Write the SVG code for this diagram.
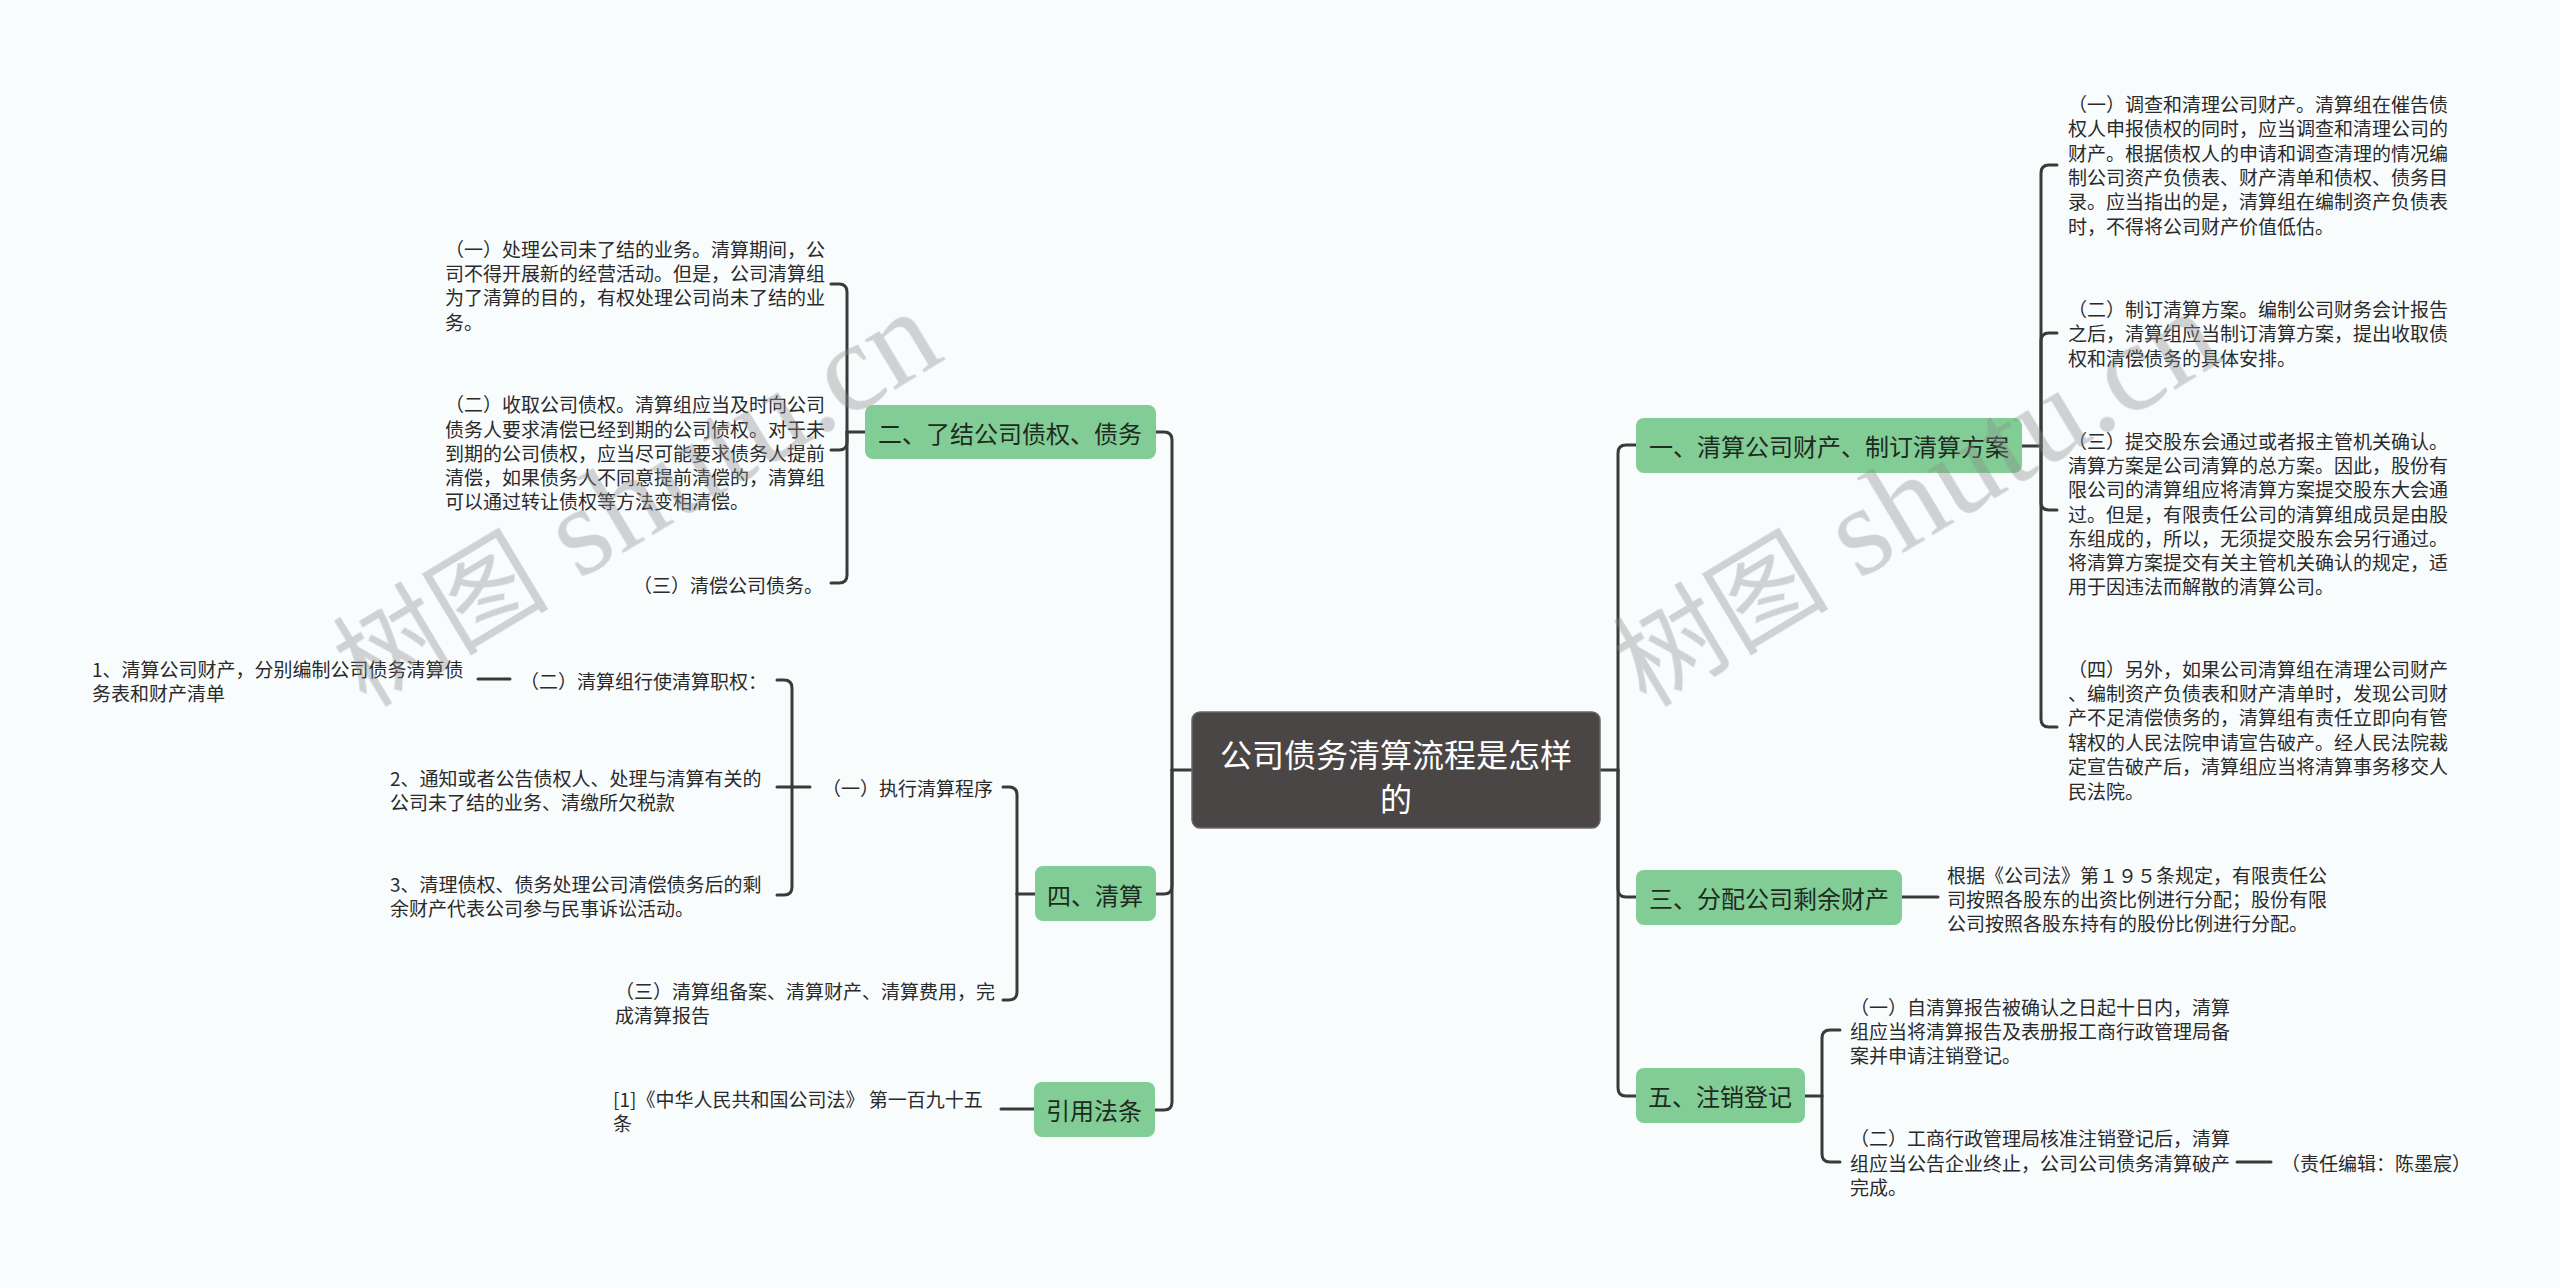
<svg xmlns="http://www.w3.org/2000/svg" width="2560" height="1288" viewBox="0 0 2560 1288">
<style>
.bg{fill:#f9fcfd}
.ln{fill:none;stroke:#3a3a3a;stroke-width:3;stroke-linecap:round;stroke-linejoin:round}
.box{fill:#82cd95}
.root{fill:#4b4646;stroke:#6d6868;stroke-width:1.5}
.t{font-family:"Noto Sans CJK SC","Noto Sans",sans-serif;font-size:19px;fill:#2a2a2a;dominant-baseline:central}
.bt{font-family:"Noto Sans CJK SC","Noto Sans",sans-serif;font-size:24px;fill:#1e2a22;dominant-baseline:central;text-anchor:middle}
.rt{font-family:"Noto Sans CJK SC","Noto Sans",sans-serif;font-size:32px;fill:#ffffff;dominant-baseline:central;text-anchor:middle}
.wm{fill:#8a8a8a;opacity:0.38}
.wc{font-family:"Noto Sans CJK SC",sans-serif;font-size:108px}
.wl{font-family:"Liberation Serif",serif;font-size:128px}
</style>
<rect class="bg" x="0" y="0" width="2560" height="1288"/>

<g id="connectors">
  <path class="ln" d="M1600 770 H1618"/>
  <path class="ln" d="M1618 770 V453 Q1618 445 1626 445 H1636"/>
  <path class="ln" d="M1618 770 V889 Q1618 897 1626 897 H1636"/>
  <path class="ln" d="M1618 770 V1088 Q1618 1096 1626 1096 H1636"/>
  <path class="ln" d="M1192 770 H1172"/>
  <path class="ln" d="M1172 770 V440 Q1172 432 1164 432 H1156"/>
  <path class="ln" d="M1172 770 V886 Q1172 894 1164 894 H1156"/>
  <path class="ln" d="M1172 770 V1102 Q1172 1110 1164 1110 H1155"/>
  <path class="ln" d="M2022 446 H2041"/>
  <path class="ln" d="M2041 446 V173 Q2041 165 2049 165 H2057"/>
  <path class="ln" d="M2041 446 V341 Q2041 333 2049 333 H2057"/>
  <path class="ln" d="M2041 446 V502 Q2041 510 2049 510 H2057"/>
  <path class="ln" d="M2041 446 V719 Q2041 727 2049 727 H2057"/>
  <path class="ln" d="M1902 897 H1938"/>
  <path class="ln" d="M1805 1096 H1822"/>
  <path class="ln" d="M1822 1096 V1038 Q1822 1030 1830 1030 H1840"/>
  <path class="ln" d="M1822 1096 V1154 Q1822 1162 1830 1162 H1840"/>
  <path class="ln" d="M2237 1162 H2271"/>
  <path class="ln" d="M865 432 H847"/>
  <path class="ln" d="M847 432 V292 Q847 284 839 284 H831"/>
  <path class="ln" d="M847 432 V442 Q847 450 839 450 H831"/>
  <path class="ln" d="M847 432 V575 Q847 583 839 583 H831"/>
  <path class="ln" d="M1035 894 H1017"/>
  <path class="ln" d="M1017 894 V795 Q1017 787 1009 787 H1003"/>
  <path class="ln" d="M1017 894 V992 Q1017 1000 1009 1000 H1003"/>
  <path class="ln" d="M810 787 H792"/>
  <path class="ln" d="M792 787 V688 Q792 680 784 680 H777"/>
  <path class="ln" d="M792 787 H777"/>
  <path class="ln" d="M792 787 V887 Q792 895 784 895 H777"/>
  <path class="ln" d="M510 679 H478"/>
  <path class="ln" d="M1034 1109 H1001"/>
</g>

<g id="root">
  <rect class="root" x="1192" y="712" width="408" height="116" rx="8"/>
  <text class="rt" x="1396" y="753">公司债务清算流程是怎样</text>
  <text class="rt" x="1396" y="797">的</text>
</g>

<g id="n1">
  <rect class="box" x="1636" y="418" width="386" height="55" rx="8"/>
  <text class="bt" x="1829" y="445">一、清算公司财产、制订清算方案</text>
</g>
<g id="n1c1">
  <text class="t" x="2068" y="103">（一）调查和清理公司财产。清算组在催告债</text>
  <text class="t" x="2068" y="127">权人申报债权的同时，应当调查和清理公司的</text>
  <text class="t" x="2068" y="152">财产。根据债权人的申请和调查清理的情况编</text>
  <text class="t" x="2068" y="176">制公司资产负债表、财产清单和债权、债务目</text>
  <text class="t" x="2068" y="200">录。应当指出的是，清算组在编制资产负债表</text>
  <text class="t" x="2068" y="225">时，不得将公司财产价值低估。</text>
</g>
<g id="n1c2">
  <text class="t" x="2068" y="308">（二）制订清算方案。编制公司财务会计报告</text>
  <text class="t" x="2068" y="332">之后，清算组应当制订清算方案，提出收取债</text>
  <text class="t" x="2068" y="357">权和清偿债务的具体安排。</text>
</g>
<g id="n1c3">
  <text class="t" x="2068" y="440">（三）提交股东会通过或者报主管机关确认。</text>
  <text class="t" x="2068" y="464">清算方案是公司清算的总方案。因此，股份有</text>
  <text class="t" x="2068" y="488">限公司的清算组应将清算方案提交股东大会通</text>
  <text class="t" x="2068" y="513">过。但是，有限责任公司的清算组成员是由股</text>
  <text class="t" x="2068" y="537">东组成的，所以，无须提交股东会另行通过。</text>
  <text class="t" x="2068" y="561">将清算方案提交有关主管机关确认的规定，适</text>
  <text class="t" x="2068" y="585">用于因违法而解散的清算公司。</text>
</g>
<g id="n1c4">
  <text class="t" x="2068" y="668">（四）另外，如果公司清算组在清理公司财产</text>
  <text class="t" x="2068" y="692">、编制资产负债表和财产清单时，发现公司财</text>
  <text class="t" x="2068" y="716">产不足清偿债务的，清算组有责任立即向有管</text>
  <text class="t" x="2068" y="741">辖权的人民法院申请宣告破产。经人民法院裁</text>
  <text class="t" x="2068" y="765">定宣告破产后，清算组应当将清算事务移交人</text>
  <text class="t" x="2068" y="790">民法院。</text>
</g>

<g id="n3">
  <rect class="box" x="1636" y="870" width="266" height="55" rx="8"/>
  <text class="bt" x="1769" y="897">三、分配公司剩余财产</text>
</g>
<g id="n3c1">
  <text class="t" x="1947" y="874">根据《公司法》第１９５条规定，有限责任公</text>
  <text class="t" x="1947" y="898">司按照各股东的出资比例进行分配；股份有限</text>
  <text class="t" x="1947" y="922">公司按照各股东持有的股份比例进行分配。</text>
</g>

<g id="n5">
  <rect class="box" x="1636" y="1068" width="169" height="55" rx="8"/>
  <text class="bt" x="1720" y="1095">五、注销登记</text>
</g>
<g id="n5c1">
  <text class="t" x="1850" y="1006">（一）自清算报告被确认之日起十日内，清算</text>
  <text class="t" x="1850" y="1030">组应当将清算报告及表册报工商行政管理局备</text>
  <text class="t" x="1850" y="1054">案并申请注销登记。</text>
</g>
<g id="n5c2">
  <text class="t" x="1850" y="1137">（二）工商行政管理局核准注销登记后，清算</text>
  <text class="t" x="1850" y="1162">组应当公告企业终止，公司公司债务清算破产</text>
  <text class="t" x="1850" y="1186">完成。</text>
</g>
<g id="n5c2a">
  <text class="t" x="2281" y="1162">（责任编辑：陈墨宸）</text>
</g>

<g id="n2">
  <rect class="box" x="865" y="405" width="291" height="54" rx="8"/>
  <text class="bt" x="1010" y="432">二、了结公司债权、债务</text>
</g>
<g id="n2c1">
  <text class="t" x="445" y="248">（一）处理公司未了结的业务。清算期间，公</text>
  <text class="t" x="445" y="272">司不得开展新的经营活动。但是，公司清算组</text>
  <text class="t" x="445" y="296">为了清算的目的，有权处理公司尚未了结的业</text>
  <text class="t" x="445" y="321">务。</text>
</g>
<g id="n2c2">
  <text class="t" x="445" y="403">（二）收取公司债权。清算组应当及时向公司</text>
  <text class="t" x="445" y="428">债务人要求清偿已经到期的公司债权。对于未</text>
  <text class="t" x="445" y="452">到期的公司债权，应当尽可能要求债务人提前</text>
  <text class="t" x="445" y="476">清偿，如果债务人不同意提前清偿的，清算组</text>
  <text class="t" x="445" y="500">可以通过转让债权等方法变相清偿。</text>
</g>
<g id="n2c3">
  <text class="t" x="823" y="584" text-anchor="end">（三）清偿公司债务。</text>
</g>

<g id="n4">
  <rect class="box" x="1035" y="866" width="121" height="55" rx="8"/>
  <text class="bt" x="1095" y="894">四、清算</text>
</g>
<g id="n4c1">
  <text class="t" x="993" y="787" text-anchor="end">（一）执行清算程序</text>
</g>
<g id="n4c1a">
  <text class="t" x="520" y="680">（二）清算组行使清算职权：</text>
</g>
<g id="n4c1a1">
  <text class="t" x="92" y="668">1、清算公司财产，分别编制公司债务清算债</text>
  <text class="t" x="92" y="692">务表和财产清单</text>
</g>
<g id="n4c1b">
  <text class="t" x="390" y="777">2、通知或者公告债权人、处理与清算有关的</text>
  <text class="t" x="390" y="801">公司未了结的业务、清缴所欠税款</text>
</g>
<g id="n4c1c">
  <text class="t" x="390" y="883">3、清理债权、债务处理公司清偿债务后的剩</text>
  <text class="t" x="390" y="907">余财产代表公司参与民事诉讼活动。</text>
</g>
<g id="n4c2">
  <text class="t" x="615" y="990">（三）清算组备案、清算财产、清算费用，完</text>
  <text class="t" x="615" y="1014">成清算报告</text>
</g>

<g id="n6">
  <rect class="box" x="1034" y="1082" width="121" height="55" rx="8"/>
  <text class="bt" x="1094" y="1109">引用法条</text>
</g>
<g id="n6c1">
  <text class="t" x="613" y="1098">[1]《中华人民共和国公司法》 第一百九十五</text>
  <text class="t" x="613" y="1122">条</text>
</g>

<g id="watermarks" class="wm">
  <text x="366" y="708" transform="rotate(-31 366 708)"><tspan class="wc">树图</tspan><tspan class="wl"> shutu.cn</tspan></text>
  <text x="1646" y="708" transform="rotate(-31 1646 708)"><tspan class="wc">树图</tspan><tspan class="wl"> shutu.cn</tspan></text>
</g>
</svg>
